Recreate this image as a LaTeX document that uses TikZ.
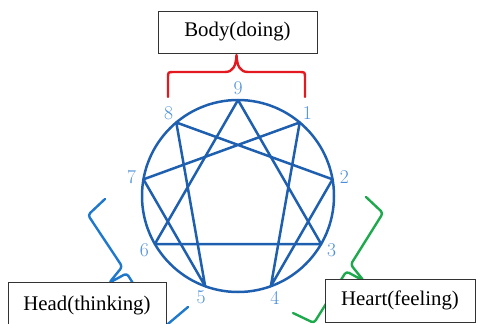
\documentclass[tikz,border=0pt]{standalone}
\usepackage{fontspec}
\newfontfamily\boxfont{Liberation Serif}
\usetikzlibrary{calc}
\definecolor{ennea}{HTML}{1F5FAF}
\definecolor{digit}{HTML}{4A8FDB}
\definecolor{bodyred}{HTML}{E3191F}
\definecolor{headblue}{HTML}{1E78CC}
\definecolor{heartgreen}{HTML}{1DAA4C}
\definecolor{boxline}{HTML}{333333}
\begin{document}
\begin{tikzpicture}[x=1pt,y=-1pt,
  ennealine/.style={draw=ennea,line width=2.5pt,line join=round,line cap=round},
  digitlbl/.style={text=digit,font=\fontsize{19.5}{19.5}\selectfont\addfontfeatures{FakeBold=1},inner sep=0pt},
  bracestroke/.style={line width=2.4pt,line join=round,line cap=round},
  labelbox/.style={draw=boxline,fill=white,line width=0.9pt,font=\boxfont\fontsize{20.8}{22}\selectfont,inner sep=0pt}]
\useasboundingbox (0,0) rectangle (480,324);
\coordinate (c) at (238,196);
\draw[ennealine] (c) circle[radius=96];
\foreach \k in {0,...,8}
  \coordinate (p\k) at ($(c)+({96*sin(40*\k)},{-96*cos(40*\k)})$);
\foreach \k/\t in {0/9,1/1,2/2,3/3,4/4,5/5,6/6,7/7,8/8}
  \node[digitlbl] (n\k) at ($(c)+({108*sin(40*\k)},{-108*cos(40*\k)})$) {\t};
\draw[ennealine] (p0) -- (p3) -- (p6) -- cycle;
\draw[ennealine] (p1) -- (p4) -- (p2) -- (p8) -- (p5) -- (p7) -- cycle;
% red brace (Body)
\draw[bracestroke,draw=bodyred] (168,97) -- (168,78) .. controls (168,72) .. (174,72) -- (225,72)
  .. controls (233,72) and (236,66) .. (236.5,55) .. controls (237,66) and (240,72) .. (248,72)
  -- (299,72) .. controls (305,72) .. (305,78) -- (305,97);
% blue brace (Head)
\draw[bracestroke,draw=headblue,rounded corners=3pt] (105,199) -- (88,215) -- (122.3,266.7) -- (109,283) -- (126.7,273.3) -- (162,329) -- (188,307);
% green brace (Heart)
\draw[bracestroke,draw=heartgreen,rounded corners=3pt] (366,197) -- (383,213) -- (350.7,264.6) -- (364,281) -- (346.3,271.4) -- (314,323) -- (293,313);
% boxes
\node[labelbox,minimum width=159pt,minimum height=42pt] (body) at (237.5,32) {Body(doing)};
\node[labelbox,minimum width=158pt,minimum height=48pt] (head) at (87,306) {\raisebox{3pt}{Head(thinking)}};
\node[labelbox,minimum width=150pt,minimum height=43pt] (heart) at (400,300.5) {Heart(feeling)};
\end{tikzpicture}
\end{document}
